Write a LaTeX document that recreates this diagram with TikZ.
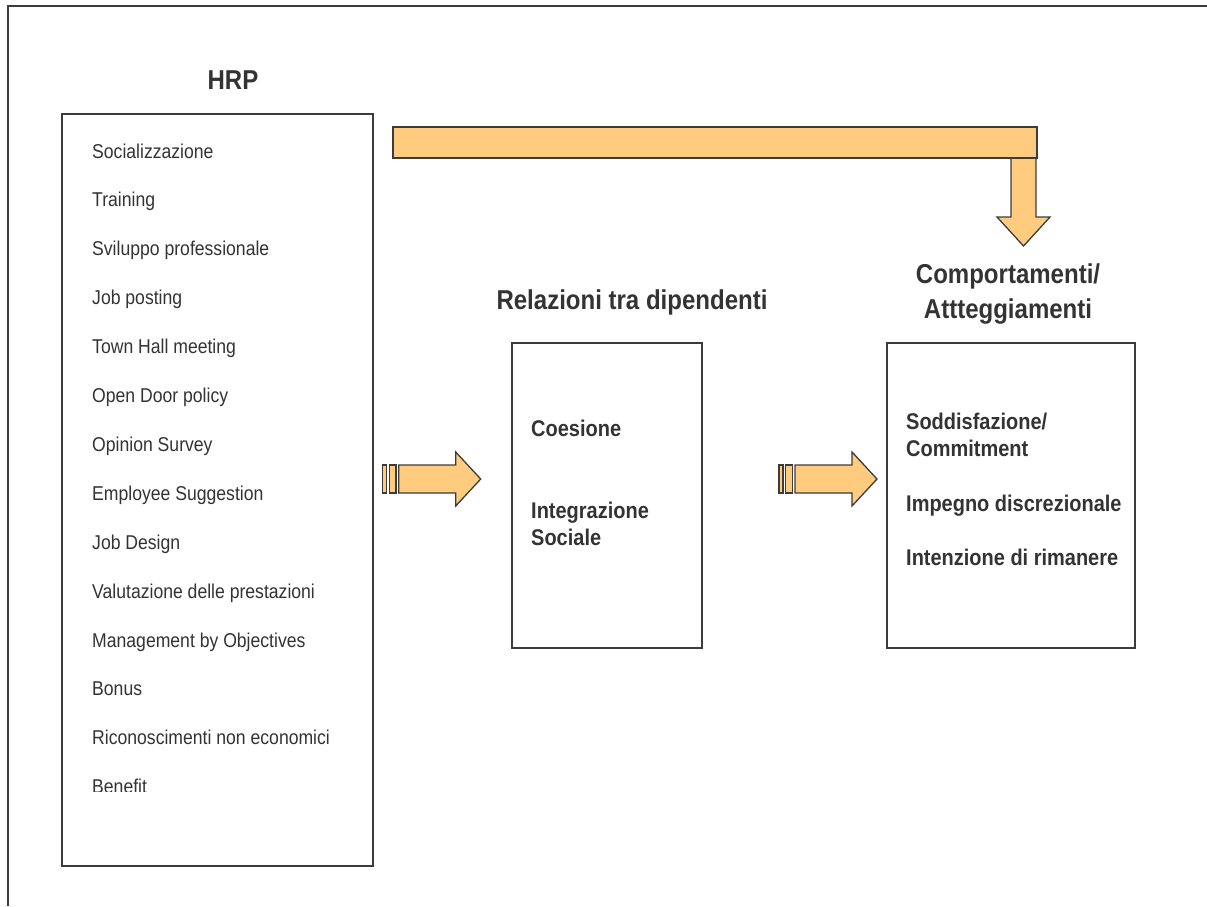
\documentclass[tikz,border=0pt]{standalone}
\usepackage{fontspec}
\setmainfont{Liberation Sans}[FakeStretch=0.88]
\usetikzlibrary{positioning}
\definecolor{barfill}{HTML}{FFCC7F}
\definecolor{edge}{HTML}{3C3C3C}
\definecolor{ink}{HTML}{333333}

\tikzset{
  box/.style={draw=edge, line width=1.4pt, outer sep=0pt, inner sep=0pt},
  bar/.style={draw=edge, fill=barfill, line width=1.3pt, line join=miter},
  item/.style={anchor=base west, inner sep=0pt, text=ink, font=\fontsize{20}{24}\selectfont},
  head/.style={anchor=north, inner sep=0pt, text=ink, align=center, font=\bfseries\fontsize{27.3}{35}\selectfont},
  entry/.style={anchor=north west, inner sep=0pt, text=ink, align=left, font=\bfseries\fontsize{22.7}{27}\selectfont},
  feedarrow/.pic={
    \draw[bar] (0,-14) rectangle (4,14);
    \draw[bar] (6.6,-14) rectangle (13.3,14);
    \draw[bar] (16,-14) -- (73,-14) -- (73,-27) -- (98,0) -- (73,27) -- (73,14) -- (16,14) -- cycle;
  }
}

\begin{document}
\begin{tikzpicture}[x=1pt, y=-1pt]
  \useasboundingbox (0,0) rectangle (1207,906);
  % outer frame, open at right and bottom
  \draw[edge, line width=2pt] (8,906) -- (8,6) -- (1207,6);

  % the three boxes
  \node[box, minimum width=311pt, minimum height=752pt] (hrp) at (217.5,490) {};
  \node[box, minimum width=190pt, minimum height=305pt] (rel) at (607,495.5) {};
  \node[box, minimum width=248pt, minimum height=305pt] (comp) at (1011,495.5) {};

  % titles
  \node[head] (hrptitle) at (233,71) {HRP};
  \node[head] (reltitle) at (632,290) {Relazioni tra dipendenti};
  \node[head] (comptitle) at (1008,264) {Comportamenti/\\Attteggiamenti};

  % practices, the last one is cut by the box
  \begin{scope}
    \clip (hrp.north west) rectangle (373,791);
    \foreach \txt [count=\i from 0] in {Socializzazione, Training, Sviluppo professionale,
        Job posting, Town Hall meeting, Open Door policy, Opinion Survey,
        Employee Suggestion, Job Design, Valutazione delle prestazioni,
        Management by Objectives, Bonus, Riconoscimenti non economici, Benefit}
      \node[item] (p\i) at (92,158+48.9*\i) {\txt};
  \end{scope}

  % contents of the middle and right boxes
  \node[entry] (coes) at (531,420) {Coesione};
  \node[entry] (integ) at (531,502) {Integrazione\\Sociale};
  \node[entry] (sodd) at (906,413) {Soddisfazione/\\Commitment};
  \node[entry] (imp) at (906,495) {Impegno discrezionale};
  \node[entry] (int) at (906,549) {Intenzione di rimanere};

  % bent arrow over the top
  \draw[bar] (1011,150) -- (1036,150) -- (1036,217) -- (1050,217) -- (1023.5,246)
    -- (997,217) -- (1011,217) -- cycle;
  \draw[bar] (393,127) rectangle (1037,158);

  % arrows between the boxes
  \pic at (382.7,479) {feedarrow};
  \pic at (779,479) {feedarrow};
\end{tikzpicture}
\end{document}
